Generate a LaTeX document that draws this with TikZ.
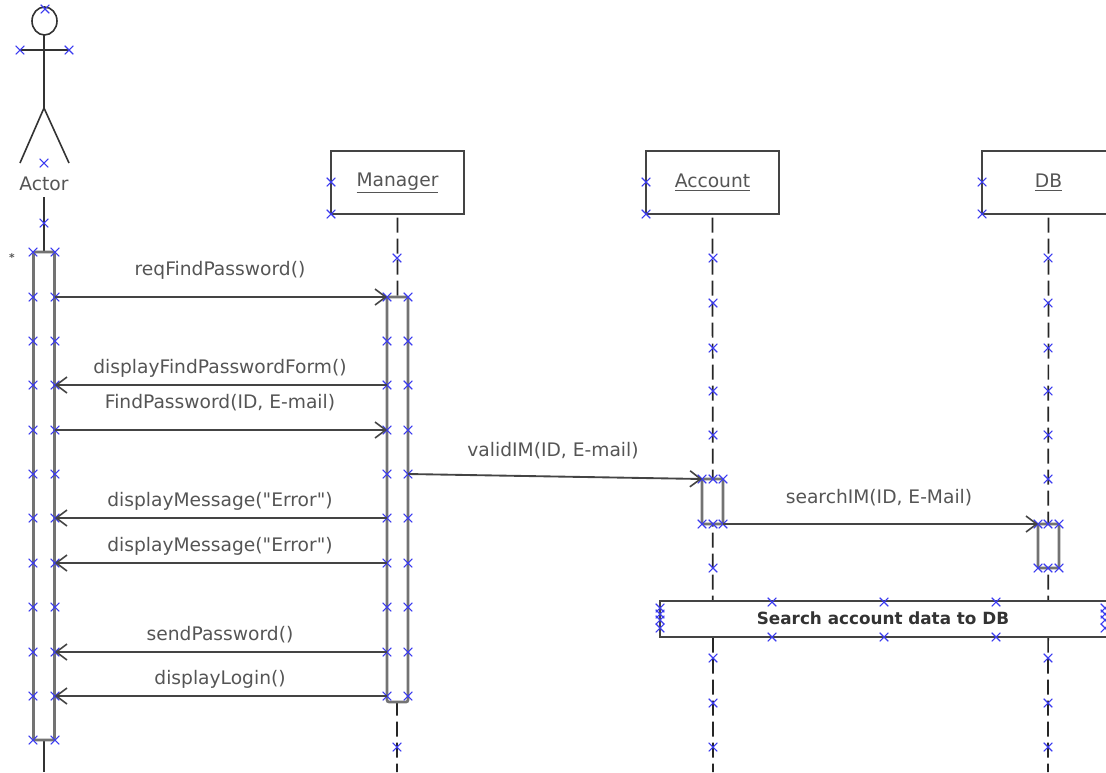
\documentclass[tikz,border=0pt]{standalone}
\usepackage{fontspec}
\setmainfont[Ligatures=TeXOff]{DejaVu Sans}
\usetikzlibrary{arrows.meta,shapes.misc}
\definecolor{textgray}{HTML}{555555}
\definecolor{linegray}{HTML}{444444}
\definecolor{crossblue}{HTML}{3A3AF0}
\tikzset{
    xmark/.style={draw=crossblue, cross out, line width=0.8pt, minimum size=6.5pt, inner sep=0pt, outer sep=0pt},
    objbox/.style={draw=linegray, fill=white, line width=1.3pt, minimum width=100pt, minimum height=47pt, inner sep=0pt},
    actbox/.style={draw=linegray!75, fill=white, line width=2pt, minimum width=15.75pt, inner sep=0pt, rounded corners=1.5pt},
    lifeline/.style={draw=black!85, line width=1.3pt, dash pattern=on 11.25pt off 4.5pt},
    msg/.style={draw=linegray, line width=1.4pt, -{Straight Barb[length=8pt,width=12pt,line width=1.2pt]}},
    lbl/.style={text=textgray, font=\fontsize{14}{16}\selectfont, inner sep=0pt},
    stick/.style={draw=black!80, line width=1.2pt}
}
\begin{document}
\begin{tikzpicture}[x=0.75pt,y=-0.75pt]
    \useasboundingbox (0,0) rectangle (1106,772);

    \draw[stick] (44.5,21) ellipse [x radius=12.5, y radius=14];
    \draw[stick] (44,35) -- (44,108);
    \draw[stick] (20,50) -- (69,50);
    \draw[stick] (20,163) -- (44,108) -- (69,163);
    \node[lbl] (actorname) at (44,184) {Actor};
    \node[lbl, font=\footnotesize\bfseries] (star) at (12,258) {*};

    \node[objbox, lbl] (manager) at (397.5,182.5) {\underline{Manager}};
    \node[objbox, lbl] (account) at (712.5,182.5) {\underline{Account}};
    \node[objbox, lbl] (db) at (1048.5,182.5) {\underline{DB}};

    \coordinate (actortop) at (44,197);
    \coordinate (actorend) at (44,772);
    \coordinate (managerend) at (397,772);
    \coordinate (accountend) at (713,772);
    \coordinate (dbend) at (1048,772);

    \draw[stick] (actortop) -- (actorend);
    \draw[lifeline] (manager.south) ++(0,3) -- (managerend);
    \draw[lifeline] (account.south) ++(0,3) -- (accountend);
    \draw[lifeline] (db.south) ++(0,3) -- (dbend);

    \node[actbox, minimum height=366pt] (actoract) at (44,496) {};
    \node[actbox, minimum height=303.75pt] (manageract) at (397.5,499.5) {};
    \node[actbox, minimum height=33.75pt] (accountact) at (712.5,501.5) {};
    \node[actbox, minimum height=33pt] (dbact) at (1048.5,546) {};

    \foreach \y in {252,297,341,385,430,474,518,563,607,652,696,740} {
        \node[xmark] (al\y) at (33,\y) {};
        \node[xmark] (ar\y) at (55,\y) {};
    }
    \foreach \y in {297,341,385,430,474,518,563,607,652,696} {
        \node[xmark] (ml\y) at (387,\y) {};
        \node[xmark] (mr\y) at (408,\y) {};
    }
    \foreach \y in {479,524} {
        \node[xmark] (cl\y) at (702,\y) {};
        \node[xmark] (cr\y) at (723,\y) {};
    }
    \foreach \y in {524,568} {
        \node[xmark] (dl\y) at (1038,\y) {};
        \node[xmark] (dr\y) at (1059,\y) {};
    }

    \draw[msg] (ar297.center) -- (ml297.center);
    \draw[msg] (ml385.center) -- (ar385.center);
    \draw[msg] (ar430.center) -- (ml430.center);
    \draw[msg] (mr474.center) -- (cl479.center);
    \draw[msg] (cr524.center) -- (dl524.center);
    \draw[msg] (ml518.center) -- (ar518.center);
    \draw[msg] (ml563.center) -- (ar563.center);
    \draw[msg] (ml652.center) -- (ar652.center);
    \draw[msg] (ml696.center) -- (ar696.center);

    \node[lbl] (req) at (220,270) {reqFindPassword()};
    \node[lbl] (formmsg) at (220,368) {displayFindPasswordForm()};
    \node[lbl] (findmsg) at (220,403) {FindPassword(ID, E-mail)};
    \node[lbl] (validmsg) at (553,451) {validIM(ID, E-mail)};
    \node[lbl] (searchmsg) at (879,498) {searchIM(ID, E-Mail)};
    \node[lbl] (errora) at (220,501) {displayMessage("Error")};
    \node[lbl] (errorb) at (220,546) {displayMessage("Error")};
    \node[lbl] (sendmsg) at (220,635) {sendPassword()};
    \node[lbl] (loginmsg) at (220,679) {displayLogin()};

    \node[objbox, minimum width=345pt, minimum height=27pt] (band) at (890,619) {};
    \node[lbl, font=\fontsize{12.6}{14}\selectfont\bfseries, text=black!80] (bandtext) at (883,618) {Search account data to DB};

    \foreach \x/\y in {45/9,20/50,69/50,44/163,44/223,331/182,331/214,646/182,646/214,982/182,982/214,397/258,397/747,
        713/479,713/524,1048/524,1048/568,772/602,884/602,996/602,772/637,884/637,996/637,
        660/608,660/614,660/620,660/628,1105/608,1105/614,1105/620,1105/628} {
        \node[xmark] (m\x-\y) at (\x,\y) {};
    }
    \foreach \y in {258,303,348,391,435,568,658,703,747} {
        \node[xmark] (cm\y) at (713,\y) {};
    }
    \foreach \y in {258,303,348,391,435,479,658,703,747} {
        \node[xmark] (dm\y) at (1048,\y) {};
    }
\end{tikzpicture}
\end{document}
